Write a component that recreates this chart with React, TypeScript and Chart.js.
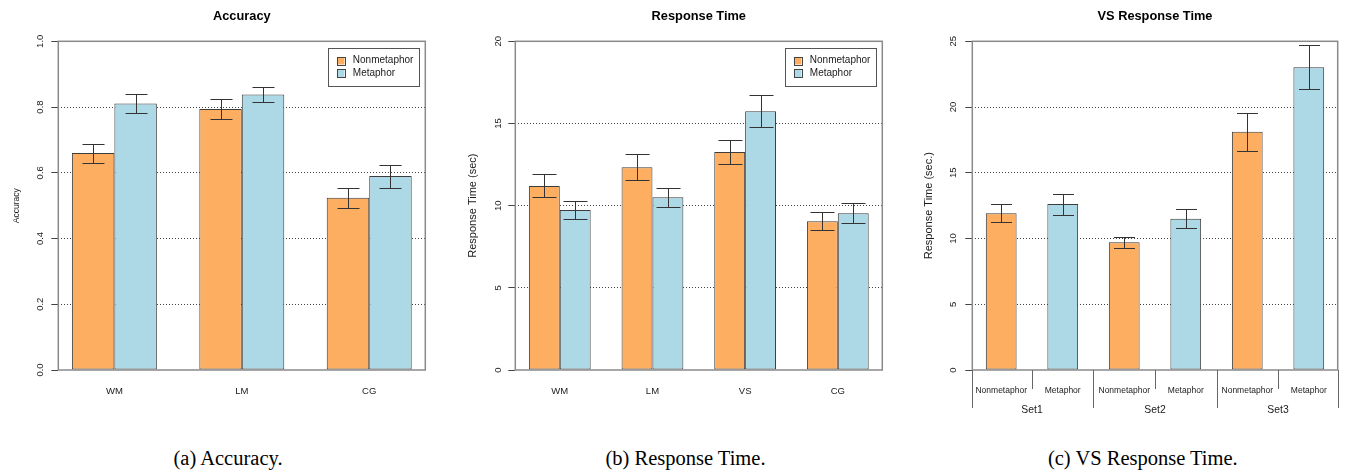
import React, { useEffect, useRef } from "react";
import { Chart, registerables } from "chart.js";

Chart.register(...registerables);
Chart.defaults.font.family = "'Liberation Sans', Arial, sans-serif";

// ---------------- data ----------------
const seriesNames = ["Nonmetaphor", "Metaphor"];

const accuracyCategories = ["WM", "LM", "CG"];
const accuracyNonmetaphor = [0.66, 0.794, 0.524];
const accuracyMetaphor = [0.811, 0.838, 0.59];
const accuracyNonmetaphorErr = [0.029, 0.03, 0.031];
const accuracyMetaphorErr = [0.028, 0.023, 0.035];

const rtCategories = ["WM", "LM", "VS", "CG"];
const rtNonmetaphor = [11.2, 12.34, 13.27, 9.05];
const rtMetaphor = [9.74, 10.51, 15.75, 9.54];
const rtNonmetaphorErr = [0.7, 0.8, 0.74, 0.54];
const rtMetaphorErr = [0.56, 0.59, 0.97, 0.61];

const vsSets = ["Set1", "Set2", "Set3"];
const vsConditions = ["Nonmetaphor", "Metaphor"];
const vsNonmetaphor = [11.92, 9.71, 18.12];
const vsMetaphor = [12.62, 11.51, 23.02];
const vsNonmetaphorErr = [0.67, 0.42, 1.43];
const vsMetaphorErr = [0.8, 0.72, 1.68];

const titles = ["Accuracy", "Response Time", "VS Response Time"];
const yTitles = ["Accuracy", "Response Time (sec)", "Response Time (sec.)"];
const captions = ["(a) Accuracy.", "(b) Response Time.", "(c) VS Response Time."];

// ---------------- styles ----------------
const ORANGE = "#FDAE61";
const BLUE = "#ADD8E6";
const BAR_EDGE = "#3c3c3c";
const TEXT = "#1a1a1a";
const GRID = "#444444";
const TICK = "#444444";
const BOX = "#8a8a8a";
const CANVAS_H = 430;

// ---------------- plugins ----------------
const plotBoxPlugin = {
  id: "plotBox",
  afterDraw(chart: any) {
    const { ctx, chartArea: a } = chart;
    ctx.save();
    ctx.strokeStyle = BOX;
    ctx.lineWidth = 1.5;
    ctx.strokeRect(a.left, a.top, a.right - a.left, a.bottom - a.top);
    ctx.restore();
  },
};

const errorBarPlugin = {
  id: "errorBars",
  afterDatasetsDraw(chart: any, _args: any, opts: any) {
    const { ctx } = chart;
    const ys = chart.scales.y;
    const half = (opts && opts.cap ? opts.cap : 22) / 2;
    chart.data.datasets.forEach((ds: any, di: number) => {
      const errs = ds.errors;
      if (!errs) return;
      const meta = chart.getDatasetMeta(di);
      meta.data.forEach((el: any, i: number) => {
        const v = ds.data[i].y;
        const e = errs[i];
        const top = Math.round(ys.getPixelForValue(v + e)) + 0.5;
        const bot = Math.round(ys.getPixelForValue(v - e)) + 0.5;
        const x = Math.round(el.x) + 0.5;
        ctx.save();
        ctx.strokeStyle = "#333333";
        ctx.lineWidth = 1;
        ctx.beginPath();
        ctx.moveTo(x, top);
        ctx.lineTo(x, bot);
        ctx.moveTo(x - half, top);
        ctx.lineTo(x + half, top);
        ctx.moveTo(x - half, bot);
        ctx.lineTo(x + half, bot);
        ctx.stroke();
        ctx.restore();
      });
    });
  },
};

const insetLegendPlugin = {
  id: "insetLegend",
  afterDraw(chart: any, _args: any, opts: any) {
    if (!opts || !opts.display) return;
    const { ctx, chartArea: a } = chart;
    const items = chart.data.datasets.map((d: any) => ({ label: d.label, color: d.backgroundColor }));
    ctx.save();
    ctx.font = "10px 'Liberation Sans', Arial, sans-serif";
    const tw = Math.max(...items.map((it: any) => ctx.measureText(it.label).width));
    const sq = 7.5;
    const w = 8.6 + sq + 8.4 + tw + 5.6;
    const h = 37.8;
    const x0 = a.right - 6.3 - w;
    const y0 = a.top + 6.4;
    ctx.fillStyle = "#ffffff";
    ctx.fillRect(x0, y0, w, h);
    ctx.strokeStyle = "#555555";
    ctx.lineWidth = 1;
    ctx.strokeRect(Math.round(x0) + 0.5, Math.round(y0) + 0.5, Math.round(w), Math.round(h));
    items.forEach((it: any, i: number) => {
      const cy = y0 + 13 + i * 12.5;
      const sx = x0 + 8.6;
      ctx.fillStyle = it.color;
      ctx.fillRect(sx, cy - sq / 2, sq, sq);
      ctx.strokeStyle = "#444444";
      ctx.strokeRect(Math.round(sx) + 0.5, Math.round(cy - sq / 2) + 0.5, Math.round(sq), Math.round(sq));
      ctx.fillStyle = TEXT;
      ctx.textAlign = "left";
      ctx.textBaseline = "middle";
      ctx.fillText(it.label, sx + sq + 8.4, cy);
    });
    ctx.restore();
  },
};

const groupSeparatorPlugin = {
  id: "groupSeparators",
  afterDraw(chart: any, _args: any, opts: any) {
    if (!opts || !opts.perGroup) return;
    const { ctx, chartArea: a } = chart;
    const xs = chart.scales.x;
    const centers = chart.data.datasets[0].data.map((d: any) => d.x);
    const line = (x: number, len: number) => {
      const px = Math.round(x) + 0.5;
      ctx.beginPath();
      ctx.moveTo(px, a.bottom);
      ctx.lineTo(px, a.bottom + len);
      ctx.stroke();
    };
    ctx.save();
    ctx.strokeStyle = "#666666";
    ctx.lineWidth = 1;
    for (let i = 0; i < centers.length - 1; i++) {
      const mid = xs.getPixelForValue((centers[i] + centers[i + 1]) / 2);
      const isLong = (i + 1) % opts.perGroup === 0;
      line(mid, isLong ? opts.longLen : opts.shortLen);
    }
    line(a.left, opts.longLen);
    line(a.right, opts.longLen);
    ctx.restore();
  },
};

// ---------------- config helpers ----------------
function yScale(o: {
  max: number; step: number; decimals: number; title: string; titleSize: number;
  titlePad: number; tickPad: number; width: number;
}) {
  const isEdge = (v: number) => Math.abs(v) < 1e-9 || Math.abs(v - o.max) < 1e-9;
  return {
    type: "linear",
    position: "left",
    min: 0,
    max: o.max,
    bounds: "data",
    afterFit: (s: any) => { s.width = o.width; },
    ticks: {
      stepSize: o.step,
      minRotation: 90,
      maxRotation: 90,
      crossAlign: "center",
      padding: o.tickPad,
      color: TEXT,
      font: { size: 9.5 },
      callback: (v: any) => Number(v).toFixed(o.decimals),
    },
    grid: {
      color: (c: any) => (c.tick && isEdge(c.tick.value) ? "rgba(0,0,0,0)" : GRID),
      lineWidth: 1,
      tickLength: 7,
      tickColor: TICK,
      tickWidth: 1,
      drawTicks: true,
    },
    border: { display: false, dash: [1, 2] },
    title: {
      display: true,
      text: o.title,
      color: TEXT,
      font: { size: o.titleSize },
      padding: { top: o.titlePad, bottom: 0 },
    },
  };
}

function titleOpts(text: string) {
  return {
    display: true,
    text,
    color: "#000000",
    fullSize: false,
    font: { size: 12.8, weight: "bold" },
    padding: { top: 8.5, bottom: 17.44 },
  };
}

function groupedConfig(o: {
  title: string; categories: string[]; non: number[]; met: number[]; nonErr: number[]; metErr: number[];
  yMax: number; yStep: number; decimals: number; yTitle: string; yTitleSize: number; yTitlePad: number;
  yTickPad: number; yWidth: number; rightPad: number; cap: number;
}) {
  const centers = o.categories.map((_, i) => 3 * i + 2);
  const lo = 1;
  const hi = 3 * o.categories.length;
  const ext = 0.04 * (hi - lo);
  return {
    type: "bar",
    data: {
      datasets: [
        {
          label: seriesNames[0],
          data: o.non.map((v, i) => ({ x: centers[i], y: v })),
          errors: o.nonErr,
          backgroundColor: ORANGE,
          borderColor: BAR_EDGE,
          borderWidth: 1,
          borderSkipped: false,
        },
        {
          label: seriesNames[1],
          data: o.met.map((v, i) => ({ x: centers[i], y: v })),
          errors: o.metErr,
          backgroundColor: BLUE,
          borderColor: BAR_EDGE,
          borderWidth: 1,
          borderSkipped: false,
        },
      ],
    },
    options: {
      animation: false,
      responsive: false,
      layout: { padding: { left: 0, right: o.rightPad, top: 0, bottom: 0 } },
      datasets: { bar: { categoryPercentage: 2 / 3, barPercentage: 1 } },
      scales: {
        x: {
          type: "linear",
          min: lo - ext,
          max: hi + ext,
          bounds: "data",
          offset: false,
          afterBuildTicks: (s: any) => { s.ticks = centers.map((v) => ({ value: v })); },
          afterFit: (s: any) => { s.height = CANVAS_H - 370; },
          grid: { display: false, drawTicks: false, offset: false },
          border: { display: false },
          ticks: {
            autoSkip: false,
            maxRotation: 0,
            minRotation: 0,
            color: TEXT,
            font: { size: 9.5 },
            padding: 15.6,
            callback: (_v: any, i: number) => o.categories[i],
          },
        },
        y: yScale({
          max: o.yMax, step: o.yStep, decimals: o.decimals, title: o.yTitle, titleSize: o.yTitleSize,
          titlePad: o.yTitlePad, tickPad: o.yTickPad, width: o.yWidth,
        }),
      },
      plugins: {
        legend: { display: false },
        tooltip: { enabled: false },
        title: titleOpts(o.title),
        errorBars: { cap: o.cap },
        insetLegend: { display: true },
      },
    },
    plugins: [plotBoxPlugin, errorBarPlugin, insetLegendPlugin],
  };
}

function vsConfig() {
  const values = vsSets.flatMap((_, g) => [vsNonmetaphor[g], vsMetaphor[g]]);
  const errs = vsSets.flatMap((_, g) => [vsNonmetaphorErr[g], vsMetaphorErr[g]]);
  const labels = vsSets.flatMap(() => vsConditions);
  const colors = vsSets.flatMap(() => [ORANGE, BLUE]);
  const centers = values.map((_, i) => 2 * i + 1.5);
  const groupCenters = vsSets.map((_, g) => (centers[2 * g] + centers[2 * g + 1]) / 2);
  const lo = 1;
  const hi = 2 * values.length;
  const ext = 0.04 * (hi - lo);
  return {
    type: "bar",
    data: {
      datasets: [
        {
          label: "VS Response Time",
          data: values.map((v, i) => ({ x: centers[i], y: v })),
          errors: errs,
          backgroundColor: colors,
          borderColor: BAR_EDGE,
          borderWidth: 1,
          borderSkipped: false,
        },
      ],
    },
    options: {
      animation: false,
      responsive: false,
      layout: { padding: { left: 0, right: 9.3, top: 0, bottom: 0 } },
      datasets: { bar: { categoryPercentage: 0.5, barPercentage: 1 } },
      scales: {
        x: {
          type: "linear",
          axis: "x",
          position: "bottom",
          weight: 0,
          min: lo - ext,
          max: hi + ext,
          bounds: "data",
          offset: false,
          afterBuildTicks: (s: any) => { s.ticks = centers.map((v) => ({ value: v })); },
          afterFit: (s: any) => { s.height = 28; },
          grid: { display: false, drawTicks: false, offset: false },
          border: { display: false },
          ticks: {
            autoSkip: false,
            maxRotation: 0,
            minRotation: 0,
            color: TEXT,
            font: { size: 8.5 },
            padding: 15.9,
            callback: (_v: any, i: number) => labels[i],
          },
        },
        x2: {
          type: "linear",
          axis: "x",
          position: "bottom",
          weight: 1,
          min: lo - ext,
          max: hi + ext,
          bounds: "data",
          offset: false,
          afterBuildTicks: (s: any) => { s.ticks = groupCenters.map((v) => ({ value: v })); },
          afterFit: (s: any) => { s.height = CANVAS_H - 370 - 28; },
          grid: { display: false, drawTicks: false, offset: false },
          border: { display: false },
          ticks: {
            autoSkip: false,
            maxRotation: 0,
            minRotation: 0,
            color: TEXT,
            font: { size: 10.4 },
            padding: 5.8,
            callback: (_v: any, i: number) => vsSets[i],
          },
        },
        y: yScale({
          max: 25, step: 5, decimals: 0, title: yTitles[2], titleSize: 11, titlePad: 22.7, tickPad: 6.7, width: 72.3,
        }),
      },
      plugins: {
        legend: { display: false },
        tooltip: { enabled: false },
        title: titleOpts(titles[2]),
        errorBars: { cap: 21 },
        groupSeparators: { perGroup: vsConditions.length, longLen: 38, shortLen: 19 },
      },
    },
    plugins: [plotBoxPlugin, errorBarPlugin, groupSeparatorPlugin],
  };
}

// ---------------- components ----------------
function ChartCanvas({ make, left, width }: { make: () => any; left: number; width: number }) {
  const ref = useRef<HTMLCanvasElement>(null);
  useEffect(() => {
    const chart = new Chart(ref.current as HTMLCanvasElement, make());
    return () => chart.destroy();
  }, []);
  return (
    <canvas
      ref={ref}
      width={width}
      height={CANVAS_H}
      style={{ position: "absolute", left, top: 0, width, height: CANVAS_H, display: "block" }}
    />
  );
}

const captionCenters = [228, 685.5, 1142.8];

export default function App() {
  const makeA = () =>
    groupedConfig({
      title: titles[0], categories: accuracyCategories, non: accuracyNonmetaphor, met: accuracyMetaphor,
      nonErr: accuracyNonmetaphorErr, metErr: accuracyMetaphorErr, yMax: 1, yStep: 0.2, decimals: 1,
      yTitle: yTitles[0], yTitleSize: 8.5, yTitlePad: 11.4, yTickPad: 4.4, yWidth: 58.3, rightPad: 24.7, cap: 22,
    });
  const makeB = () =>
    groupedConfig({
      title: titles[1], categories: rtCategories, non: rtNonmetaphor, met: rtMetaphor,
      nonErr: rtNonmetaphorErr, metErr: rtMetaphorErr, yMax: 20, yStep: 5, decimals: 0,
      yTitle: yTitles[1], yTitleSize: 11, yTitlePad: 15.9, yTickPad: 4.7, yWidth: 65.3, rightPad: 17.7, cap: 24,
    });
  return (
    <div style={{ position: "fixed", left: 0, top: 0, width: 1347, height: 471, background: "#ffffff", overflow: "hidden" }}>
      <ChartCanvas make={makeA} left={0} width={450} />
      <ChartCanvas make={makeB} left={450} width={450} />
      <ChartCanvas make={vsConfig} left={900} width={447} />
      {captions.map((c, i) => (
        <div
          key={c}
          style={{
            position: "absolute",
            left: captionCenters[i] - 160,
            width: 320,
            top: 445.5,
            lineHeight: "24px",
            fontSize: "20.5px",
            fontFamily: "'Liberation Serif', 'Times New Roman', serif",
            textAlign: "center",
            color: "#000",
          }}
        >
          {c}
        </div>
      ))}
    </div>
  );
}
